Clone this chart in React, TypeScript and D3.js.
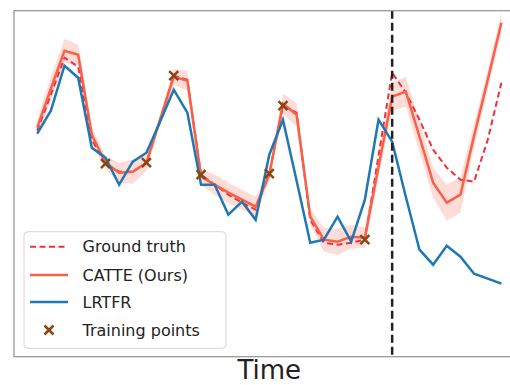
import * as d3 from "d3";

// series values, index = time step
const groundTruth = [2.26, 2.62, 2.99, 2.9, 2.17, 1.93, 1.85, 1.85, 1.94, 2.37, 2.81, 2.77, 1.82, 1.72, 1.62, 1.54, 1.47, 1.83, 2.51, 2.44, 1.37, 1.14, 1.12, 1.14, 1.17, 2.01, 2.84, 2.64, 2.37, 2.07, 1.89, 1.77, 1.75, 2.17, 2.74];
const catte = [2.29, 2.68, 3.06, 3.02, 2.22, 1.94, 1.84, 1.85, 1.94, 2.37, 2.8, 2.76, 1.8, 1.72, 1.64, 1.57, 1.5, 1.82, 2.53, 2.42, 1.4, 1.17, 1.15, 1.2, 1.19, 1.9, 2.6, 2.65, 2.2, 1.74, 1.54, 1.62, 2.21, 2.77, 3.34];
const catteStd = [0.08, 0.12, 0.12, 0.1, 0.08, 0.06, 0.1, 0.12, 0.08, 0.05, 0.08, 0.1, 0.08, 0.1, 0.1, 0.1, 0.1, 0.05, 0.1, 0.12, 0.08, 0.12, 0.13, 0.12, 0.1, 0.1, 0.14, 0.15, 0.15, 0.15, 0.18, 0.18, 0.12, 0.1, 0.1];
const lrtfr = [2.23, 2.46, 2.91, 2.79, 2.09, 1.99, 1.72, 1.95, 2.04, 2.35, 2.67, 2.44, 1.72, 1.72, 1.42, 1.55, 1.37, 2.02, 2.37, 1.76, 1.14, 1.17, 1.4, 1.15, 1.57, 2.37, 2.15, 1.6, 1.07, 0.92, 1.11, 1.0, 0.83, 0.78, 0.73];
const trainIdx = [5, 8, 10, 12, 17, 18, 24];
const splitAt = 26;
const legendLabels = ["Ground truth", "CATTE (Ours)", "LRTFR", "Training points"];

const W = 510;
const H = 385;
const FONT = "DejaVu Sans, sans-serif";

export default function App() {
  const n = groundTruth.length;
  const x = d3.scaleLinear().domain([-1.7, n - 1 + 1.7]).range([14, 524.6]);
  const y = d3.scaleLinear().domain([0, 3.46]).range([356.7, 10.7]);
  const idx = d3.range(n);

  const line = d3
    .line<number>()
    .x((_, i) => x(i))
    .y((d) => y(d));
  const band = d3
    .area<number>()
    .x((i) => x(i))
    .y0((i) => y(catte[i] - catteStd[i]))
    .y1((i) => y(catte[i] + catteStd[i]));

  const red = "#f0303a";
  const tomato = "#fa6048";
  const blue = "#1f77b4";
  const brown = "#8b4513";

  const cross = (cx: number, cy: number, s: number) =>
    `M${cx - s},${cy - s}L${cx + s},${cy + s}M${cx - s},${cy + s}L${cx + s},${cy - s}`;

  const legY = [246.7, 275, 302, 330];

  return (
    <svg
      width={W}
      height={H}
      style={{ position: "absolute", left: 0, top: 0, background: "#fff" }}
    >
      <defs>
        <clipPath id="plot">
          <rect x={14} y={10.7} width={510.6} height={346} />
        </clipPath>
      </defs>
      <g clipPath="url(#plot)">
        <path d={band(idx) || ""} fill={tomato} fillOpacity={0.22} />
        <path d={line(groundTruth) || ""} fill="none" stroke={red} strokeWidth={2} strokeDasharray="6,3.5" />
        <path d={line(catte) || ""} fill="none" stroke={tomato} strokeWidth={2.5} />
        <path d={line(lrtfr) || ""} fill="none" stroke={blue} strokeWidth={2.5} />
        {trainIdx.map((i) => (
          <path key={i} d={cross(x(i), y(groundTruth[i]), 4.5)} stroke={brown} strokeWidth={2.5} />
        ))}
        <line
          x1={x(splitAt)}
          x2={x(splitAt)}
          y1={10.7}
          y2={356.7}
          stroke="#222"
          strokeWidth={2.5}
          strokeDasharray="8,4"
        />
      </g>
      <rect x={14} y={10.7} width={510.6} height={346} fill="none" stroke="#9a9a9a" strokeWidth={1.3} />

      {/* legend */}
      <rect x={24} y={231.7} width={202} height={116.6} rx={4} fill="#fff" fillOpacity={0.85} stroke="#d6d6d6" />
      <line x1={30} x2={68} y1={legY[0]} y2={legY[0]} stroke={red} strokeWidth={2} strokeDasharray="6,3.5" />
      <line x1={30} x2={68} y1={legY[1]} y2={legY[1]} stroke={tomato} strokeWidth={2.5} />
      <line x1={30} x2={68} y1={legY[2]} y2={legY[2]} stroke={blue} strokeWidth={2.5} />
      <path d={cross(49, legY[3], 4.5)} stroke={brown} strokeWidth={2.5} />
      {legendLabels.map((t, i) => (
        <text key={t} x={82.5} y={legY[i]} dy="0.35em" fontFamily={FONT} fontSize={16} fill="#222">
          {t}
        </text>
      ))}

      <text x={269.3} y={378.7} textAnchor="middle" fontFamily={FONT} fontSize={26} fill="#222">
        Time
      </text>
    </svg>
  );
}
